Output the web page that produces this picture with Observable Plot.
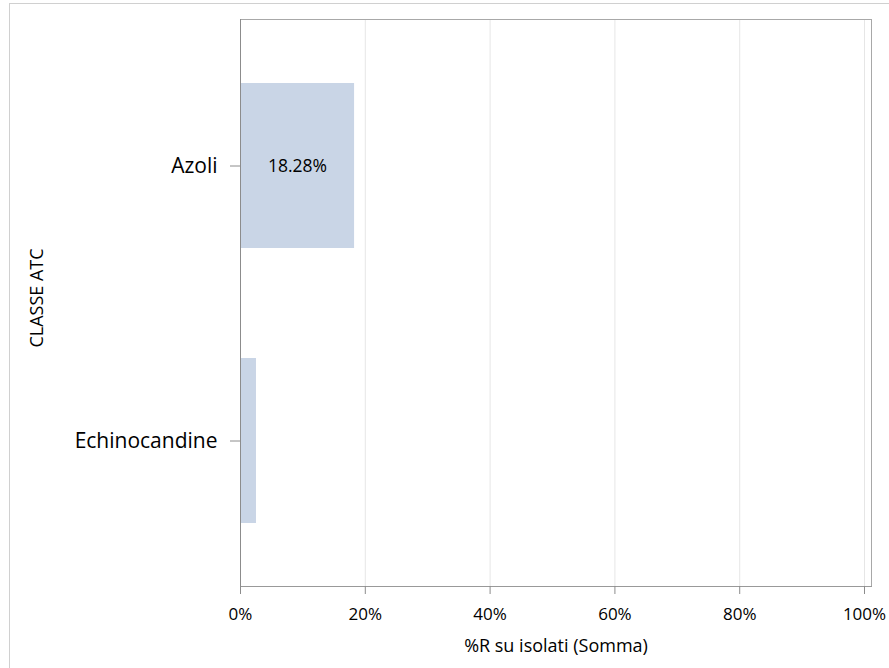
<!DOCTYPE html>
<html>
<head>
<meta charset="utf-8">
<script src="https://cdn.jsdelivr.net/npm/d3@7"></script>
<script src="https://cdn.jsdelivr.net/npm/@observablehq/plot@0.6"></script>
<style>
  html, body { margin: 0; padding: 0; background: #fff; }
  #wrap { position: relative; width: 889px; height: 668px; overflow: hidden; }
  #border { position: absolute; left: 9px; top: 3px; right: -2px; bottom: -2px;
            border-left: 1px solid #d0d0d0; border-top: 1px solid #d0d0d0; }
  #chart { position: absolute; left: 0; top: 0; }
  svg text { font-family: "Open Sans", "Noto Sans", sans-serif; fill: #000; }
</style>
</head>
<body>
<div id="wrap"><div id="border"></div><div id="chart"></div></div>
<script>
// ATC classes and their resistance share (%R su isolati, summed)
const categories = ["Azoli", "Echinocandine"];
const values = [18.28, 2.56];
const xTicks = [0, 20, 40, 60, 80, 100];
const xTitle = "%R su isolati (Somma)";
const yTitle = "CLASSE ATC";

const data = categories.map((c, i) => ({category: c, value: values[i]}));
// only bars wide enough to hold their label get one
const labelled = data.filter(d => d.value >= 10);

const barColor = "#c9d5e6";
const font = "Open Sans, Noto Sans, sans-serif";

const chart = Plot.plot({
  width: 889,
  height: 668,
  marginLeft: 240,
  marginRight: 18,
  marginTop: 19,
  marginBottom: 82,
  style: {fontFamily: font, background: "transparent"},
  x: {domain: [0, 101.12]},
  y: {domain: categories, paddingInner: 0.4, paddingOuter: 0.23},
  marks: [
    Plot.gridX(xTicks.filter(t => t > 0), {stroke: "#e6e6e6", strokeOpacity: 1}),
    Plot.barX(data, {x: "value", y: "category", fill: barColor}),
    Plot.text(labelled, {
      x: d => d.value / 2, y: "category",
      text: d => d.value.toFixed(2) + "%",
      fontSize: 17.5, fill: "#000"
    }),
    Plot.frame({stroke: "#a8a8a8"}),
    Plot.frame({anchor: "left", stroke: "#8c8c8c"}),
    Plot.frame({anchor: "bottom", stroke: "#999999"}),
    Plot.axisX(xTicks, {
      tickFormat: d => d + "%", tickSize: 8, tickPadding: 13,
      stroke: "#8c8c8c", fontSize: 17, label: null
    }),
    Plot.axisY({
      tickSize: 10, tickPadding: 13, stroke: "#8c8c8c",
      fontSize: 21, label: null
    }),
    Plot.text([xTitle], {
      frameAnchor: "bottom", dy: 60, text: d => d,
      fontSize: 18, lineAnchor: "middle", textAnchor: "middle"
    }),
    Plot.text([yTitle], {
      frameAnchor: "left", dx: -203, dy: -5, rotate: -90, text: d => d,
      fontSize: 18, lineAnchor: "middle", textAnchor: "middle"
    })
  ]
});

document.getElementById("chart").appendChild(chart);
</script>
</body>
</html>
